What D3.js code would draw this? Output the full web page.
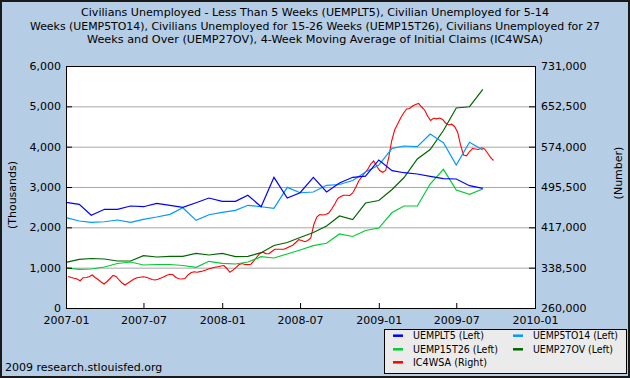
<!DOCTYPE html>
<html>
<head>
<meta charset="utf-8">
<script src="https://cdn.jsdelivr.net/npm/d3@7"></script>
<style>
  html, body { margin: 0; padding: 0; background: #B5CDE5; }
  svg { display: block; }
  text { font-family: "DejaVu Sans", Verdana, sans-serif; fill: #000; }
</style>
</head>
<body>
<svg id="chart" width="630" height="378"></svg>
<script>
// ---------- DATA ----------
const titleLines = [
  "Civilians Unemployed - Less Than 5 Weeks (UEMPLT5), Civilian Unemployed for 5-14",
  "Weeks (UEMP5TO14), Civilians Unemployed for 15-26 Weeks (UEMP15T26), Civilians Unemployed for 27",
  "Weeks and Over (UEMP27OV), 4-Week Moving Average of Initial Claims (IC4WSA)"
];
const monthlyStart = "2007-01";   // first monthly observation
const monthlyEnd = "2009-09";     // last monthly observation
const weeklyStart = "2007-01-06"; // first weekly observation (week ending Saturday)

// Thousands of persons, 2007-01 .. 2009-09
const uemplt5 = [2620, 2571, 2298, 2447, 2447, 2529, 2511, 2596, 2546, 2496, 2610, 2727,
                 2645, 2645, 2794, 2511, 3240, 2727, 2858, 3240, 2876, 3100, 3240, 3270,
                 3670, 3404, 3354, 3322, 3265, 3210, 3198, 3032, 2967];
const uemp5to14 = [2239, 2157, 2125, 2139, 2182, 2125, 2199, 2256, 2323, 2487, 2174, 2313,
                   2372, 2422, 2546, 2511, 2472, 2992, 2858, 2876, 3042, 3062, 3161, 3371,
                   3545, 3959, 4016, 3999, 4313, 4100, 3545, 4108, 3917];
const uemp15t26 = [992, 959, 967, 1016, 1103, 1140, 1066, 1078, 1078, 1054, 1009, 1158,
                   1108, 1091, 1140, 1272, 1240, 1339, 1438, 1545, 1604, 1835, 1773, 1921,
                   1983, 2367, 2529, 2530, 3074, 3438, 2925, 2819, 2950];
const uemp27ov = [1133, 1207, 1227, 1215, 1165, 1165, 1297, 1264, 1281, 1281, 1356, 1314,
                  1356, 1272, 1281, 1371, 1549, 1624, 1748, 1872, 2033, 2281, 2194, 2603,
                  2665, 2938, 3235, 3694, 3929, 4400, 4958, 4990, 5422];
// Number, weekly from 2007-01-06
const ic4wsa = [
  321300, 319400, 317800, 316400, 313100, 319000, 319400, 320900, 324200, 319400,
  315500, 310600, 306700, 311600, 317400, 323300, 321300, 314500, 308700, 304800,
  308700, 312500, 316400, 319000, 320000, 320700, 319800, 317800, 315500, 314500,
  316100, 318400, 320900, 323800, 325600, 324600, 319400, 316800, 316400, 317400,
  324200, 328500, 330400, 329700, 330800, 332000, 334000, 336300, 337900, 339200,
  340400, 341700, 342700, 336900, 329500, 333600, 338600, 344100, 346600, 344700,
  344500, 345200, 351500, 359300, 366100, 368600, 365900, 365500, 370000, 374200,
  374200, 374200, 374200, 376800, 379500, 382200, 387500, 392900, 391400, 389000,
  391400, 396200, 422000, 437100, 442000, 441000, 442000, 444900, 452700, 462400,
  473100, 477000, 479300, 479300, 479000, 483800, 494500, 507200, 515000, 522800,
  529600, 540300, 546100, 536400, 527600, 524100, 527600, 552000, 585000, 606400,
  618100, 629800, 639500, 647300, 648300, 653200, 656100, 658000, 651200, 645400,
  633700, 625000, 629200, 628200, 629800, 626900, 620100, 616200, 617700, 613300,
  602600, 577300, 557800, 556200, 564600, 570400, 569500, 568500, 571800, 569500,
  561700, 552900, 547100
];

const xTickLabels = ["2007-01", "2007-07", "2008-01", "2008-07", "2009-01", "2009-07", "2010-01"];
const leftTickValues = [0, 1000, 2000, 3000, 4000, 5000, 6000];
const rightTickValues = [260000, 338500, 417000, 495500, 574000, 652500, 731000];

const seriesNames = ["UEMPLT5 (Left)", "UEMP5TO14 (Left)", "UEMP15T26 (Left)", "UEMP27OV (Left)", "IC4WSA (Right)"];
const seriesColors = ["#0000FF", "#0099FF", "#00CC33", "#006600", "#FF0000"];

// ---------- LAYOUT ----------
const W = 630, H = 378;
const plot = { left: 66, right: 535, top: 66, bottom: 308 };
const svg = d3.select("#chart");

const parseMonth = d3.timeParse("%Y-%m");
const parseDay = d3.timeParse("%Y-%m-%d");

const x = d3.scaleTime()
  .domain([parseMonth(xTickLabels[0]), parseMonth(xTickLabels[xTickLabels.length - 1])])
  .range([plot.left, plot.right]);
const yL = d3.scaleLinear().domain([0, 6000]).range([plot.bottom, plot.top]);
const yR = d3.scaleLinear().domain([260000, 731000]).range([plot.bottom, plot.top]);

const months = d3.timeMonth.range(parseMonth(monthlyStart), d3.timeMonth.offset(parseMonth(monthlyEnd), 1));
const weeks = d3.timeSaturday.range(parseDay(weeklyStart), d3.timeDay.offset(parseDay(weeklyStart), 7 * ic4wsa.length));

// background + frame
svg.append("rect").attr("x", 0).attr("y", 0).attr("width", W).attr("height", H)
  .attr("fill", "#B5CDE5");
svg.append("rect").attr("x", 1).attr("y", 1).attr("width", W - 2).attr("height", H - 2)
  .attr("fill", "none").attr("stroke", "#1a1a1a").attr("stroke-width", 2);

// title
const titleY = [12, 25.7, 39.4];
const titleW = [468, 570, 456];
titleLines.forEach((t, i) => {
  svg.append("text").attr("x", W / 2).attr("y", titleY[i]).attr("dy", "0.35em")
    .attr("text-anchor", "middle").attr("font-size", 11)
    .attr("textLength", titleW[i]).attr("lengthAdjust", "spacingAndGlyphs")
    .text(t);
});

// plot background
svg.append("rect").attr("x", plot.left).attr("y", plot.top)
  .attr("width", plot.right - plot.left).attr("height", plot.bottom - plot.top)
  .attr("fill", "#FFFFFF");

// gridlines
svg.append("g").selectAll("line").data(leftTickValues.slice(1, -1)).join("line")
  .attr("x1", plot.left).attr("x2", plot.right)
  .attr("y1", d => yL(d) + 0.5).attr("y2", d => yL(d) + 0.5)
  .attr("stroke", "#A8A8A8").attr("stroke-width", 1);

// lines
const lineL = d3.line().x((d, i) => x(months[i])).y(d => yL(d));
const lineR = d3.line().x((d, i) => x(weeks[i])).y(d => yR(d));
const plotG = svg.append("g");
const monthlySeries = [uemplt5, uemp5to14, uemp15t26, uemp27ov];
plotG.append("path").datum(ic4wsa).attr("d", lineR)
  .attr("fill", "none").attr("stroke", seriesColors[4]).attr("stroke-width", 1.1);
[3, 2, 1, 0].forEach(k => {
  plotG.append("path").datum(monthlySeries[k]).attr("d", lineL)
    .attr("fill", "none").attr("stroke", seriesColors[k]).attr("stroke-width", 1.2);
});

// axes
const fmt = d3.format(",");
const axL = svg.append("g").attr("transform", `translate(${plot.left},0)`)
  .call(d3.axisLeft(yL).tickValues(leftTickValues).tickFormat(fmt).tickSize(-6).tickPadding(5));
const axR = svg.append("g").attr("transform", `translate(${plot.right},0)`)
  .call(d3.axisRight(yR).tickValues(rightTickValues).tickFormat(fmt).tickSize(-6).tickPadding(6));
const axB = svg.append("g").attr("transform", `translate(0,${plot.bottom})`)
  .call(d3.axisBottom(x).tickValues(xTickLabels.map(parseMonth)).tickFormat(d3.timeFormat("%Y-%m")).tickSize(-5).tickPadding(8));
[axL, axR, axB].forEach(a => {
  a.select(".domain").remove();
  a.selectAll("text").attr("font-size", 11).attr("font-family", "DejaVu Sans, Verdana, sans-serif").attr("fill", "#000");
  a.selectAll("line").attr("stroke", "#000");
});

// plot frame
svg.append("rect").attr("x", plot.left + 0.5).attr("y", plot.top + 0.5)
  .attr("width", plot.right - plot.left).attr("height", plot.bottom - plot.top)
  .attr("fill", "none").attr("stroke", "#000").attr("stroke-width", 1);

// axis titles
svg.append("text").attr("transform", "translate(12,195) rotate(-90)")
  .attr("text-anchor", "middle").attr("dy", "0.35em").attr("font-size", 11).text("(Thousands)");
svg.append("text").attr("transform", "translate(618,173) rotate(-90)")
  .attr("text-anchor", "middle").attr("dy", "0.35em").attr("font-size", 11).text("(Number)");

// footer
svg.append("text").attr("x", 5).attr("y", 367).attr("dy", "0.35em")
  .attr("font-size", 11).text("2009 research.stlouisfed.org");

// legend
const lg = svg.append("g");
lg.append("rect").attr("x", 384.5).attr("y", 329.5).attr("width", 242).attr("height", 44)
  .attr("fill", "#EBEBEB").attr("stroke", "#000").attr("stroke-width", 1);
const legPos = [[393, 335.7], [513, 335.7], [393, 349.3], [513, 349.3], [393, 362.3]];
const legW = [71, 85, 85, 80, 74];
seriesNames.forEach((name, i) => {
  const [lx, ly] = legPos[i];
  lg.append("line").attr("x1", lx).attr("x2", lx + 10).attr("y1", ly).attr("y2", ly)
    .attr("stroke", seriesColors[i]).attr("stroke-width", 2.5);
  lg.append("text").attr("x", lx + 20).attr("y", ly).attr("dy", "0.35em")
    .attr("font-size", 10).attr("textLength", legW[i]).attr("lengthAdjust", "spacingAndGlyphs")
    .text(name);
});
</script>
</body>
</html>
